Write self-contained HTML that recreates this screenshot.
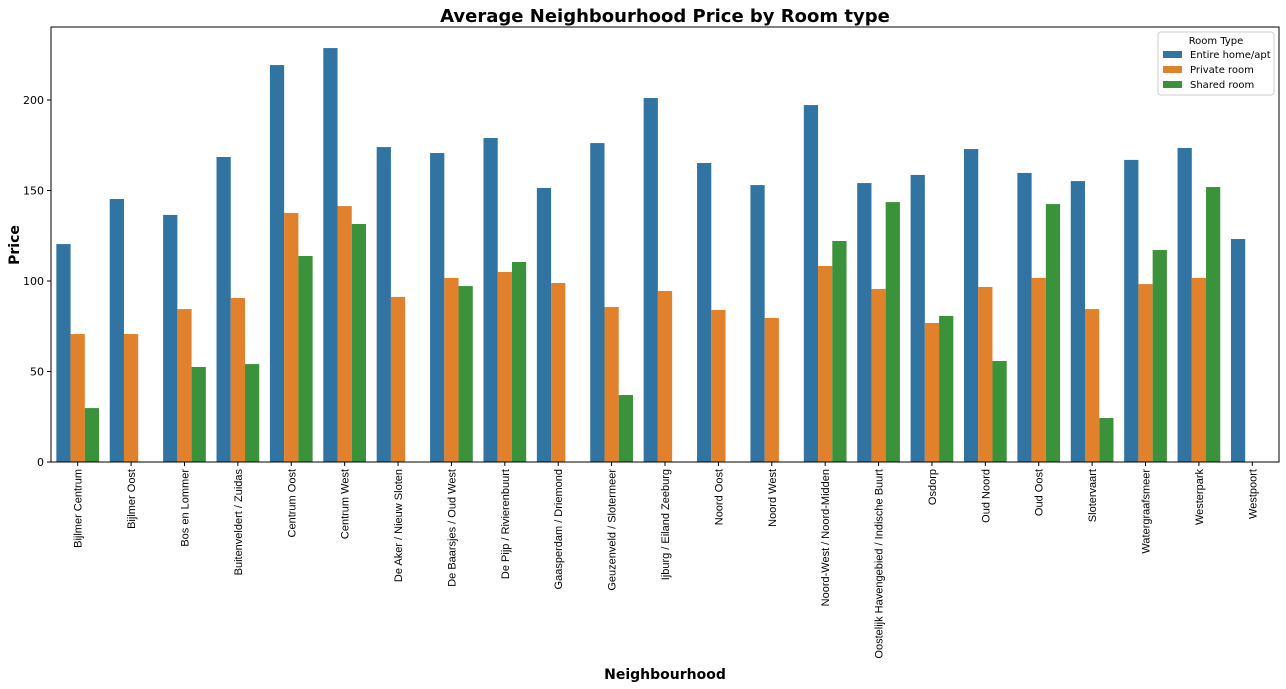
<!DOCTYPE html>
<html><head><meta charset="utf-8"><style>body{margin:0;background:#fff}svg{display:block;font-family:"DejaVu Sans","Liberation Sans",sans-serif}</style></head>
<body>
<svg id="chart" width="1286" height="689"></svg>
<script>
const categories=["Bijlmer Centrum","Bijlmer Oost","Bos en Lommer","Buitenveldert / Zuidas","Centrum Oost","Centrum West","De Aker / Nieuw Sloten","De Baarsjes / Oud West","De Pijp / Rivierenbuurt","Gaasperdam / Driemond","Geuzenveld / Slotermeer","Ijburg / Eiland Zeeburg","Noord Oost","Noord West","Noord-West / Noord-Midden","Oostelijk Havengebied / Indische Buurt","Osdorp","Oud Noord","Oud Oost","Slotervaart","Watergraafsmeer","Westerpark","Westpoort"];
const entireHome=[120.4,145.3,136.5,168.5,219.3,228.7,174,170.7,179,151.4,176.2,201.1,165.2,153,197.2,154.1,158.6,172.9,159.7,155.2,166.9,173.5,123.2];
const privateRoom=[70.7,70.7,84.5,90.6,137.6,141.4,91.2,101.7,105,98.9,85.6,94.5,84,79.6,108.3,95.6,76.8,96.7,101.7,84.5,98.3,101.7,null];
const sharedRoom=[29.8,null,52.5,54.1,113.8,131.5,null,97.2,110.5,null,37,null,null,null,122.1,143.6,80.7,55.8,142.5,24.3,117.1,151.9,null];
const yTicks=[0,50,100,150,200];
const seriesNames=["Entire home/apt","Private room","Shared room"];
const colors=["#3274a1","#e1812c","#3a923a"];
const NS="http://www.w3.org/2000/svg";
const svg=document.getElementById('chart');
const L=51,R=1279,T=27,B=462;
const yScale=v=>B-v*(B-100)/200;
const band=(R-L)/categories.length;
const xC=i=>L+band*(i+0.5);
const bw=band*0.8/3;
function el(t,a,txt){const e=document.createElementNS(NS,t);for(const k in a)e.setAttribute(k,a[k]);if(txt!=null)e.textContent=txt;svg.appendChild(e);return e;}
[entireHome,privateRoom,sharedRoom].forEach((s,si)=>{s.forEach((v,i)=>{if(v==null)return;
const r=el('rect',{x:xC(i)-1.5*bw+si*bw,y:yScale(v),width:bw,height:B-yScale(v),fill:colors[si]});

});});
const frame=el('rect',{x:L,y:T,width:R-L,height:B-T,fill:'none',stroke:'#000','stroke-width':1});

yTicks.forEach(t=>{const y=yScale(t);el('line',{x1:L-4,x2:L,y1:y,y2:y,stroke:'#000'});
const tx=el('text',{x:L-7,y:y+4,'text-anchor':'end','font-size':11},t);
});
categories.forEach((c,i)=>{const x=xC(i);el('line',{x1:x,x2:x,y1:B,y2:B+4,stroke:'#000'});
const tx=el('text',{transform:`translate(${x+4},${B+7}) rotate(-90)`,'text-anchor':'end','font-size':11,'font-family':'Liberation Sans, sans-serif'},c);
});
const title=el('text',{x:665,y:22,'text-anchor':'middle','font-size':18,'font-weight':'bold'},'Average Neighbourhood Price by Room type');

const yt=el('text',{transform:'translate(19,245) rotate(-90)','text-anchor':'middle','font-size':14,'font-weight':'bold'},'Price');

const xt=el('text',{x:665,y:679,'text-anchor':'middle','font-size':14,'font-weight':'bold'},'Neighbourhood');

const lg=el('rect',{x:1158,y:32,width:116,height:63,fill:'#fff',stroke:'#ccc',rx:3});

el('text',{x:1216,y:44,'text-anchor':'middle','font-size':10},'Room Type');
seriesNames.forEach((n,i)=>{const y=55+i*15;el('rect',{x:1163,y:y-4,width:19,height:7,fill:colors[i]});
const t=el('text',{x:1190,y:y+3,'font-size':10},n);
});
</script>
</body></html>
